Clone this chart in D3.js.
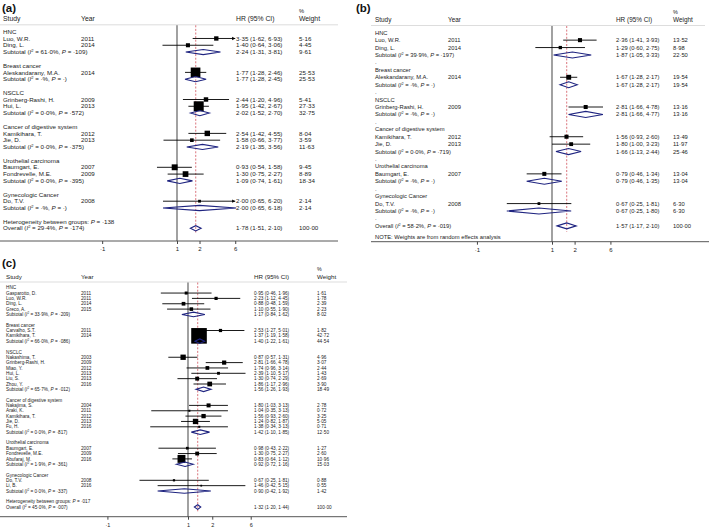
<!DOCTYPE html>
<html><head><meta charset="utf-8">
<script src="https://cdn.jsdelivr.net/npm/d3@7"></script>
<style>html,body{margin:0;padding:0;background:#fff;}svg{display:block;}</style>
</head><body>
<svg id="chart" width="709" height="528"></svg>
<script>
// ---------------- DATA ----------------
const groups = ["HNC","Breast cancer","NSCLC","Cancer of digestive system","Urothelial carcinoma","Gynecologic Cancer"];
const tickValues = [0.1, 1, 2, 6];
const tickLabels = ["·1", "1", "2", "6"];

const studiesA = [
  {g:0,name:"Luo, W.R.",year:"2011",hr:3.35,lo:1.62,hi:6.93,w:5.16},
  {g:0,name:"Ding, L.",year:"2014",hr:1.40,lo:0.64,hi:3.06,w:4.45},
  {g:1,name:"Aleskandarany, M.A.",year:"2014",hr:1.77,lo:1.28,hi:2.46,w:25.53},
  {g:2,name:"Grinberg-Rashi, H.",year:"2009",hr:2.44,lo:1.20,hi:4.96,w:5.41},
  {g:2,name:"Hui, L.",year:"2013",hr:1.95,lo:1.42,hi:2.67,w:27.33},
  {g:3,name:"Kamikihara, T.",year:"2012",hr:2.54,lo:1.42,hi:4.55,w:8.04},
  {g:3,name:"Jie, D.",year:"2013",hr:1.58,lo:0.66,hi:3.77,w:3.59},
  {g:4,name:"Baumgart, E.",year:"2007",hr:0.93,lo:0.54,hi:1.58,w:9.45},
  {g:4,name:"Fondrevelle, M.E.",year:"2009",hr:1.30,lo:0.75,hi:2.27,w:8.89},
  {g:5,name:"Do, T.V.",year:"2008",hr:2.00,lo:0.65,hi:6.20,w:2.14}
];
const subtotalsA = [
  {i2:61.0,p:0.109,hr:2.24,lo:1.31,hi:3.81,w:9.61},
  {i2:null,p:null,hr:1.77,lo:1.28,hi:2.45,w:25.53},
  {i2:0.0,p:0.572,hr:2.02,lo:1.52,hi:2.70,w:32.75},
  {i2:0.0,p:0.375,hr:2.19,lo:1.35,hi:3.56,w:11.63},
  {i2:0.0,p:0.395,hr:1.09,lo:0.74,hi:1.61,w:18.34},
  {i2:null,p:null,hr:2.00,lo:0.65,hi:6.18,w:2.14}
];
const overallA = {het:0.138,i2:29.4,p:0.174,hr:1.78,lo:1.51,hi:2.10,w:100};

const studiesB = [
  {g:0,name:"Luo, W.R.",year:"2011",hr:2.36,lo:1.41,hi:3.93,w:13.52},
  {g:0,name:"Ding, L.",year:"2014",hr:1.29,lo:0.60,hi:2.75,w:8.98},
  {g:1,name:"Aleskandarany, M.A.",year:"2014",hr:1.67,lo:1.28,hi:2.17,w:19.54},
  {g:2,name:"Grinberg-Rashi, H.",year:"2009",hr:2.81,lo:1.66,hi:4.78,w:13.16},
  {g:3,name:"Kamikihara, T.",year:"2012",hr:1.56,lo:0.93,hi:2.60,w:13.49},
  {g:3,name:"Jie, D.",year:"2013",hr:1.80,lo:1.00,hi:3.23,w:11.97},
  {g:4,name:"Baumgart, E.",year:"2007",hr:0.79,lo:0.46,hi:1.34,w:13.04},
  {g:5,name:"Do, T.V.",year:"2008",hr:0.67,lo:0.25,hi:1.81,w:6.30}
];
const subtotalsB = [
  {i2:39.9,p:0.197,hr:1.87,lo:1.05,hi:3.33,w:22.50},
  {i2:null,p:null,hr:1.67,lo:1.28,hi:2.17,w:19.54},
  {i2:null,p:null,hr:2.81,lo:1.66,hi:4.77,w:13.16},
  {i2:0.0,p:0.719,hr:1.66,lo:1.13,hi:2.44,w:25.46},
  {i2:null,p:null,hr:0.79,lo:0.46,hi:1.35,w:13.04},
  {i2:null,p:null,hr:0.67,lo:0.25,hi:1.80,w:6.30}
];
const overallB = {het:null,i2:58.2,p:0.019,hr:1.57,lo:1.17,hi:2.10,w:100};
const noteB = "NOTE: Weights are from random effects analysis";

const studiesC = [
  {g:0,name:"Gasparotto, D.",year:"2011",hr:0.95,lo:0.46,hi:1.96,w:1.61},
  {g:0,name:"Luo, W.R.",year:"2011",hr:2.23,lo:1.12,hi:4.45,w:1.78},
  {g:0,name:"Ding, L.",year:"2014",hr:0.88,lo:0.48,hi:1.59,w:2.39},
  {g:0,name:"Greco, A.",year:"2015",hr:1.10,lo:0.55,hi:1.90,w:2.23},
  {g:1,name:"Carvalho, S.T.",year:"2011",hr:2.53,lo:1.27,hi:5.01,w:1.82},
  {g:1,name:"Kamikihara, T.",year:"2014",hr:1.37,lo:1.19,hi:1.58,w:42.72},
  {g:2,name:"Nakashima, T.",year:"2003",hr:0.87,lo:0.57,hi:1.31,w:4.96},
  {g:2,name:"Grinberg-Rashi, H.",year:"2009",hr:2.81,lo:1.66,hi:4.78,w:3.07},
  {g:2,name:"Miao, Y.",year:"2012",hr:1.74,lo:0.96,hi:3.14,w:2.44},
  {g:2,name:"Hui, L.",year:"2013",hr:2.39,lo:1.10,hi:5.17,w:1.43},
  {g:2,name:"Liu, S.",year:"2013",hr:1.30,lo:0.74,hi:2.29,w:2.69},
  {g:2,name:"Zhou, Y.",year:"2016",hr:1.86,lo:1.17,hi:2.96,w:3.90},
  {g:3,name:"Nakajima, S.",year:"2004",hr:1.80,lo:1.03,hi:3.13,w:2.78},
  {g:3,name:"Araki, K.",year:"2011",hr:1.04,lo:0.35,hi:3.13,w:0.72},
  {g:3,name:"Kamikihara, T.",year:"2012",hr:1.56,lo:0.93,hi:2.60,w:3.25},
  {g:3,name:"Jie, D.",year:"2013",hr:1.24,lo:0.82,hi:1.87,w:5.05},
  {g:3,name:"Fu, H.",year:"2016",hr:1.38,lo:0.34,hi:3.13,w:0.71},
  {g:4,name:"Baumgart, E.",year:"2007",hr:0.98,lo:0.43,hi:2.22,w:1.27},
  {g:4,name:"Fondrevelle, M.E.",year:"2009",hr:1.30,lo:0.75,hi:2.27,w:2.60},
  {g:4,name:"Abufaraj, M.",year:"2016",hr:0.83,lo:0.64,hi:1.12,w:10.96},
  {g:5,name:"Do, T.V.",year:"2008",hr:0.67,lo:0.25,hi:1.81,w:0.88},
  {g:5,name:"Li, B.",year:"2016",hr:1.46,lo:0.42,hi:5.15,w:0.55}
];
const subtotalsC = [
  {i2:33.9,p:0.209,hr:1.17,lo:0.84,hi:1.62,w:8.02},
  {i2:66.0,p:0.086,hr:1.40,lo:1.22,hi:1.61,w:44.54},
  {i2:65.7,p:0.012,hr:1.56,lo:1.26,hi:1.93,w:18.49},
  {i2:0.0,p:0.817,hr:1.42,lo:1.10,hi:1.85,w:12.50},
  {i2:1.9,p:0.361,hr:0.92,lo:0.72,hi:1.16,w:15.03},
  {i2:0.0,p:0.337,hr:0.90,lo:0.42,hi:1.92,w:1.42}
];
const overallC = {het:0.017,i2:45.0,p:0.007,hr:1.32,lo:1.20,hi:1.44,w:100};

// ---------------- DRAWING ----------------
const FONT = "'Liberation Sans', Arial, Helvetica, sans-serif";
const TXT = "#222";
const NAVY = "#1f2480";
const svg = d3.select("#chart").style("font-family", FONT);

const f2 = v => d3.format(".2f")(v).replace(".", "·");
const f1 = v => d3.format(".1f")(v).replace(".", "·");
const fp = v => v == null ? "·" : d3.format(".3f")(v).replace(/^0\./, "·");
const fi = v => v == null ? "·" : f1(v);

function statText(sel, prefix, i2, p, fs) {
  sel.append("tspan").text(prefix + "  (");
  sel.append("tspan").attr("font-style", "italic").text("I");
  sel.append("tspan").attr("font-size", fs * 0.65).attr("dy", -fs * 0.35).text("2");
  sel.append("tspan").attr("dy", fs * 0.35).text(" = " + fi(i2) + "%, ");
  sel.append("tspan").attr("font-style", "italic").text("P");
  sel.append("tspan").text(" = " + fp(p) + ")");
}

function drawPanel(cfg, studies, subs, overall, note) {
  const g = svg.append("g");
  const x = d3.scaleLog().domain([0.1, 6])
    .range([cfg.x1 + cfg.k * Math.log(0.1), cfg.x1 + cfg.k * Math.log(6)]);
  const maxW = d3.max(studies, d => d.w);
  const box = d3.scaleSqrt().domain([0, maxW]).range([0, cfg.boxMax]);

  // rows
  const rows = [];
  groups.forEach((name, gi) => {
    rows.push({type: "group", label: name});
    studies.filter(s => s.g === gi).forEach(s => rows.push(Object.assign({type: "study"}, s)));
    rows.push(Object.assign({type: "sub"}, subs[gi]));
    rows.push({type: "blank"});
  });
  if (overall.het != null) rows.push({type: "het", p: overall.het});
  rows.push(Object.assign({type: "overall"}, overall));
  rows.forEach((r, i) => r.y = cfg.row0 + i * cfg.step);
  const ovY = rows[rows.length - 1].y;

  // title & header
  g.append("text").attr("x", cfg.titleX).attr("y", cfg.titleY)
    .attr("font-size", cfg.titleSize).attr("font-weight", "bold").attr("fill", "#111").text(cfg.title);
  const hdr = [["Study", cfg.colName], ["Year", cfg.colYear], ["HR (95% CI)", cfg.colHR], ["Weight", cfg.colW]];
  hdr.forEach(([t, xx]) => g.append("text").attr("x", xx).attr("y", cfg.headY)
    .attr("font-size", cfg.headSize).attr("fill", TXT).text(t));
  g.append("text").attr("x", cfg.colW).attr("y", cfg.pctY)
    .attr("font-size", cfg.headSize * 0.85).attr("fill", TXT).text("%");
  g.append("line").attr("x1", cfg.lineX0).attr("x2", cfg.lineX1)
    .attr("y1", cfg.headLineY).attr("y2", cfg.headLineY)
    .attr("stroke", "#d4d4d4").attr("stroke-width", 0.8);

  // reference line at 1
  g.append("line").attr("x1", x(1)).attr("x2", x(1))
    .attr("y1", cfg.headLineY + 0.5).attr("y2", cfg.axisY)
    .attr("stroke", "#555").attr("stroke-width", 1.1);
  // overall dashed line
  g.append("line").attr("x1", x(overall.hr)).attr("x2", x(overall.hr))
    .attr("y1", cfg.headLineY + 0.5).attr("y2", ovY + cfg.step * 0.8)
    .attr("stroke", "#d0505a").attr("stroke-width", 0.8).attr("stroke-dasharray", "2,1.6");

  // axis
  g.append("line").attr("x1", cfg.lineX0).attr("x2", cfg.axisX1)
    .attr("y1", cfg.axisY).attr("y2", cfg.axisY).attr("stroke", "#444").attr("stroke-width", 0.9);
  const ax = g.append("g").attr("transform", `translate(0,${cfg.axisY})`)
    .call(d3.axisBottom(x).tickValues(tickValues).tickFormat((d, i) => tickLabels[i])
      .tickSize(3).tickPadding(3).tickSizeOuter(0));
  ax.select(".domain").remove();
  ax.selectAll("line").attr("stroke", "#444");
  ax.selectAll("text").attr("font-size", cfg.tickSize).attr("fill", TXT).attr("font-family", FONT);

  const fs = cfg.bodySize;
  const txt = (xx, y, t) => g.append("text").attr("x", xx).attr("y", y).attr("dy", "0.35em")
    .attr("font-size", fs).attr("fill", TXT);

  rows.forEach(r => {
    if (r.type === "group") txt(cfg.colName, r.y).text(r.label);
    if (r.type === "blank" && cfg.dots) txt(cfg.colName, r.y).text(".");
    if (r.type === "het") {
      const t = txt(cfg.colName, r.y);
      t.append("tspan").text("Heterogeneity between groups: ");
      t.append("tspan").attr("font-style", "italic").text("P");
      t.append("tspan").text(" = " + fp(r.p));
    }
    if (r.type === "study") {
      txt(cfg.colName, r.y).text(r.name);
      txt(cfg.colYear, r.y).text(r.year);
      txt(cfg.colHR, r.y).text(`${f2(r.hr)} (${f2(r.lo)}, ${f2(r.hi)})`);
      txt(cfg.colW, r.y).text(f2(r.w));
      const s = box(r.w);
      g.append("rect").attr("x", x(r.hr) - s / 2).attr("y", r.y - s / 2)
        .attr("width", s).attr("height", s).attr("fill", "#000");
      const clipHi = r.hi > 6;
      const xHi = clipHi ? x(6) : x(r.hi);
      g.append("line").attr("x1", x(Math.max(r.lo, 0.1))).attr("x2", xHi)
        .attr("y1", r.y).attr("y2", r.y).attr("stroke", "#000").attr("stroke-width", cfg.ciW);
      if (clipHi) {
        const a = cfg.arrow;
        g.append("path").attr("d", `M${xHi},${r.y}L${xHi - a * 1.4},${r.y - a * 0.75}L${xHi - a * 1.4},${r.y + a * 0.75}Z`)
          .attr("fill", "#000");
      }
    }
    if (r.type === "sub" || r.type === "overall") {
      statText(txt(cfg.colName, r.y), r.type === "sub" ? "Subtotal" : "Overall", r.i2, r.p, fs);
      txt(cfg.colHR, r.y).text(`${f2(r.hr)} (${f2(r.lo)}, ${f2(r.hi)})`);
      txt(cfg.colW, r.y).text(f2(r.w));
      const h = cfg.dh;
      g.append("path")
        .attr("d", `M${x(r.lo)},${r.y}L${x(r.hr)},${r.y - h}L${x(r.hi)},${r.y}L${x(r.hr)},${r.y + h}Z`)
        .attr("fill", "none").attr("stroke", NAVY).attr("stroke-width", 1.1);
    }
  });

  if (note) {
    txt(cfg.colName, cfg.noteY).text(note);
  }
}

drawPanel({title: "(a)", titleX: 2, titleY: 11.5, titleSize: 11.5,
  headY: 21, pctY: 13, headSize: 6.8, headLineY: 24.8, lineX0: 0, lineX1: 338, axisX1: 338,
  colName: 3, colYear: 81, colHR: 236, colW: 299,
  row0: 31.7, step: 6.78, bodySize: 6.2, x1: 177, k: 32.5, axisY: 241, tickSize: 6,
  boxMax: 10, dh: 2.6, ciW: 0.9, arrow: 2.2, dots: false},
  studiesA, subtotalsA, overallA, null);

drawPanel({title: "(b)", titleX: 356, titleY: 11.5, titleSize: 11.5,
  headY: 21.5, pctY: 13.5, headSize: 6.4, headLineY: 25.5, lineX0: 371, lineX1: 705, axisX1: 709,
  colName: 375, colYear: 448, colHR: 616, colW: 673,
  row0: 32.7, step: 7.43, bodySize: 5.8, x1: 552, k: 32.6, axisY: 241.7, tickSize: 6,
  boxMax: 4.9, dh: 3.0, ciW: 0.9, arrow: 2.2, dots: true, noteY: 237.3},
  studiesB, subtotalsB, overallB, noteB);

drawPanel({title: "(c)", titleX: 2, titleY: 267, titleSize: 11.5,
  headY: 279, pctY: 271, headSize: 6.2, headLineY: 282, lineX0: 0, lineX1: 347, axisX1: 347,
  colName: 6, colYear: 81, colHR: 254, colW: 317,
  row0: 287.7, step: 5.35, bodySize: 4.7, x1: 188, k: 35, axisY: 516.7, tickSize: 5.5,
  boxMax: 15.6, dh: 2.3, ciW: 0.9, arrow: 2.0, dots: false},
  studiesC, subtotalsC, overallC, null);
</script>
</body></html>
